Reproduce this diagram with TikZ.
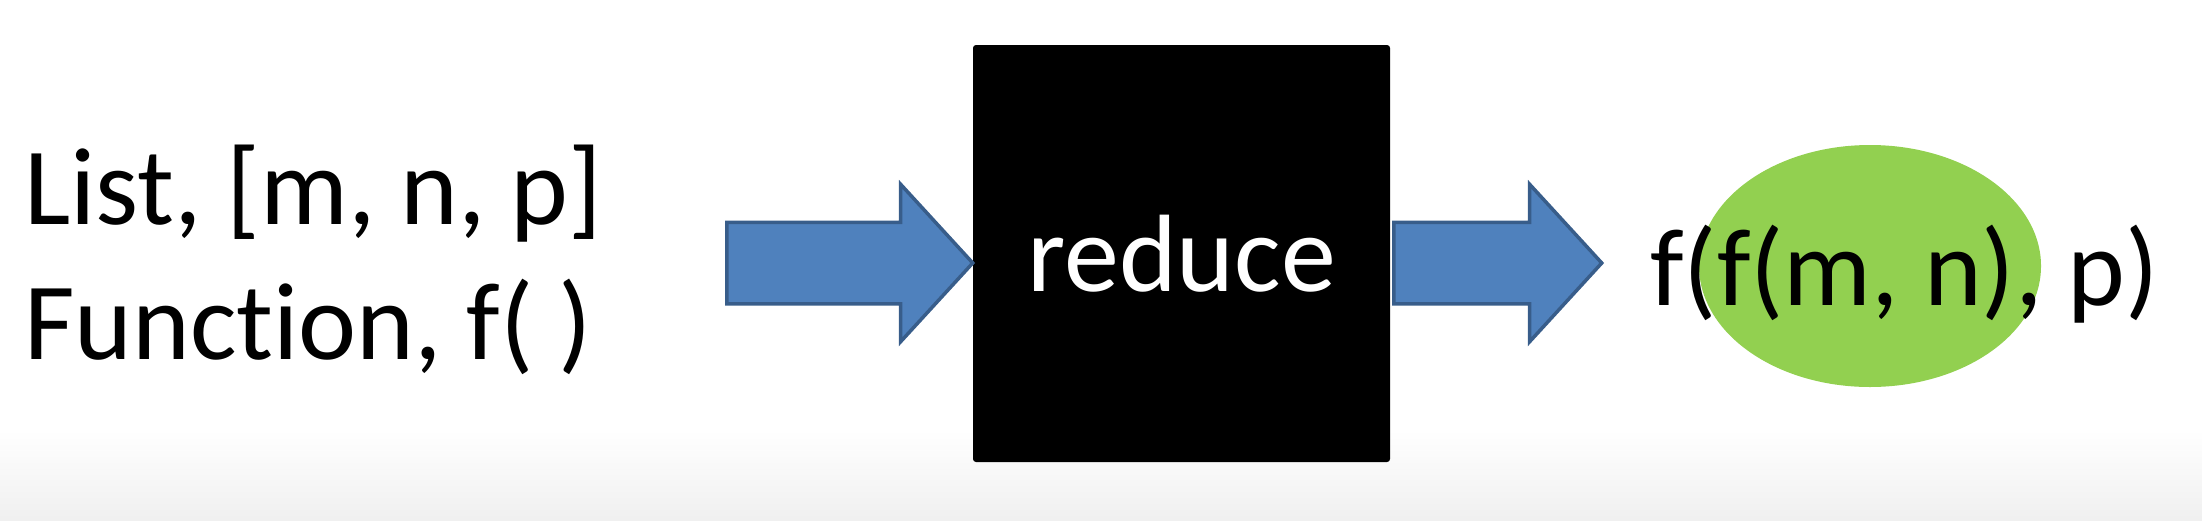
\documentclass[tikz,border=0pt]{standalone}
\usepackage{fontspec}
\setmainfont{Carlito}[Ligatures=NoCommon]
\usetikzlibrary{shapes.geometric, shapes.arrows, positioning}

\definecolor{arrowBlue}{HTML}{4F81BD}
\definecolor{arrowEdge}{HTML}{385D8A}
\definecolor{blobGreen}{HTML}{92D050}

\tikzset{
  every label text/.style={font=\fontsize{110}{132}\selectfont},
  blockArrow/.style={shape=single arrow, fill=arrowBlue, draw=arrowEdge, line width=3.5pt,
    single arrow head extend=38pt, single arrow tip angle=95, inner xsep=0pt, inner ysep=39pt},
  reduceBox/.style={rectangle, fill=black, rounded corners=3pt, minimum width=417pt,
    minimum height=417pt, inner sep=0pt, text=white},
  blob/.style={ellipse, fill=blobGreen, minimum width=342pt, minimum height=242pt, inner sep=0pt}
}

\begin{document}
\begin{tikzpicture} [x=1pt, y=-1pt, every node/.style={every label text/.try}]

\useasboundingbox (0,0) rectangle (2202,520);
\shade [top color=white, bottom color=black!6] (0,430) rectangle (2202,520);

% inputs
\node [anchor=base west, inner sep=0pt] (list) at (24,224) {List, [m, n, p]};
\node [anchor=base west, inner sep=0pt] (func) at (24,359) {Function, f( )};

% the black box
\node [reduceBox] (box) at (1181.5,253.5) {reduce};

% block arrows
\node [blockArrow, minimum height=246pt, anchor=tail] (arrowIn) at (725,263) {};
\node [blockArrow, minimum height=208pt, anchor=tail] (arrowOut) at (1392,263) {};

% result
\node [blob] (blob) at (1870,266) {};
\node [anchor=base west, inner sep=0pt] (result) at (1650,305) {f(f(m, n), p)};

\end{tikzpicture}
\end{document}
